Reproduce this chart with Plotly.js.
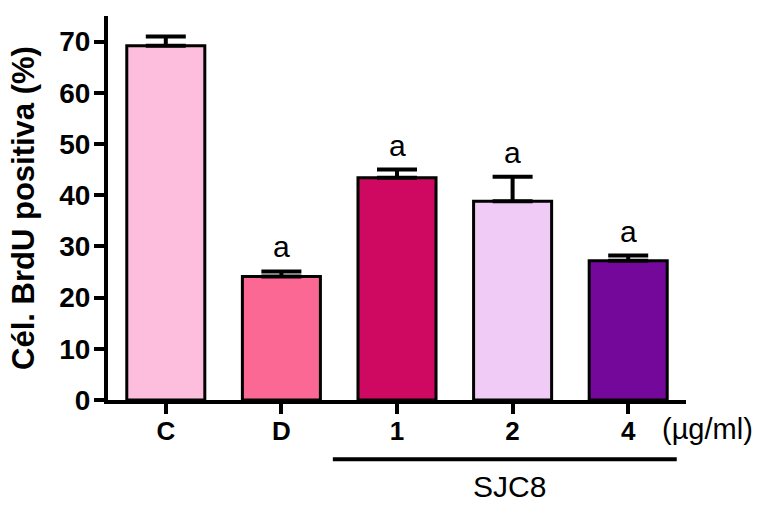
<!DOCTYPE html>
<html>
<head>
<meta charset="utf-8">
<script src="https://cdn.plot.ly/plotly-3.0.1.min.js"></script>
<style>html,body{margin:0;padding:0;background:#fff;}#chart{width:761px;height:505px;}</style>
</head>
<body>
<div id="chart"></div>
<script>
// Data
const categories = ["C", "D", "1", "2", "4"];
const values = [69.2, 24.1, 43.4, 38.8, 27.2];
const errors = [1.8, 1.0, 1.6, 4.8, 1.0];
const letters = ["", "a", "a", "a", "a"];
const barColors = ["#FDBDDC", "#FA6893", "#CF0862", "#EFCBF6", "#74089A"];
const yTicks = [0, 10, 20, 30, 40, 50, 60, 70];
const unitLabel = "(\u00b5g/ml)";
const groupLabel = "SJC8";
const yTitle = "C\u00e9l. BrdU positiva (%)";

const FONT = "Liberation Sans, Arial, Helvetica, sans-serif";

const trace = {
  type: "bar",
  x: categories,
  y: values,
  marker: { color: barColors, line: { color: "#000", width: 3 } },
  error_y: {
    type: "data",
    array: errors,
    arrayminus: errors.map(() => 0),
    symmetric: false,
    visible: true,
    color: "#000",
    thickness: 4,
    width: 20
  },
  hoverinfo: "none"
};

const annotations = [];
categories.forEach((c, i) => {
  if (letters[i]) {
    annotations.push({
      x: i, y: values[i] + errors[i], xref: "x", yref: "y",
      text: letters[i], showarrow: false,
      yanchor: "bottom", yshift: 6,
      font: { family: FONT, size: 30, color: "#000" }
    });
  }
});
annotations.push({
  x: 0.955, y: -0.076, xref: "paper", yref: "paper",
  text: unitLabel, showarrow: false, xanchor: "left", yanchor: "middle",
  font: { family: FONT, size: 29, color: "#000" }
});
annotations.push({
  x: 0.694, y: -0.226, xref: "paper", yref: "paper",
  text: groupLabel, showarrow: false, xanchor: "center", yanchor: "middle",
  font: { family: FONT, size: 30, color: "#000" }
});

const layout = {
  width: 761, height: 505,
  margin: { l: 108, r: 75, t: 16, b: 105, pad: 0 },
  paper_bgcolor: "#fff", plot_bgcolor: "#fff",
  showlegend: false,
  bargap: 0.325,
  font: { family: FONT, color: "#000" },
  xaxis: {
    type: "category",
    range: [-0.5, 4.5],
    showline: true, linecolor: "#000", linewidth: 4,
    ticks: "outside", ticklen: 10, tickwidth: 4, tickcolor: "#000",
    ticklabelstandoff: -5,
    tickfont: { family: FONT, size: 26, color: "#000", weight: "bold" },
    showgrid: false, zeroline: false, fixedrange: true
  },
  yaxis: {
    range: [0, 75],
    tickvals: yTicks,
    ticktext: yTicks.map(String),
    showline: true, linecolor: "#000", linewidth: 4,
    ticks: "outside", ticklen: 10, tickwidth: 4, tickcolor: "#000",
    ticklabelstandoff: -2,
    tickfont: { family: FONT, size: 28, color: "#000", weight: "bold" },
    showgrid: false, zeroline: false, fixedrange: true,
    title: { text: yTitle, standoff: 16, font: { family: FONT, size: 31, color: "#000", weight: "bold" } }
  },
  shapes: [{
    type: "line", xref: "paper", yref: "paper",
    x0: 0.389, x1: 0.984, y0: -0.154, y1: -0.154,
    line: { color: "#000", width: 4 }
  }],
  annotations: annotations
};

Plotly.newPlot("chart", [trace], layout, { displayModeBar: false, staticPlot: true });
</script>
</body>
</html>
